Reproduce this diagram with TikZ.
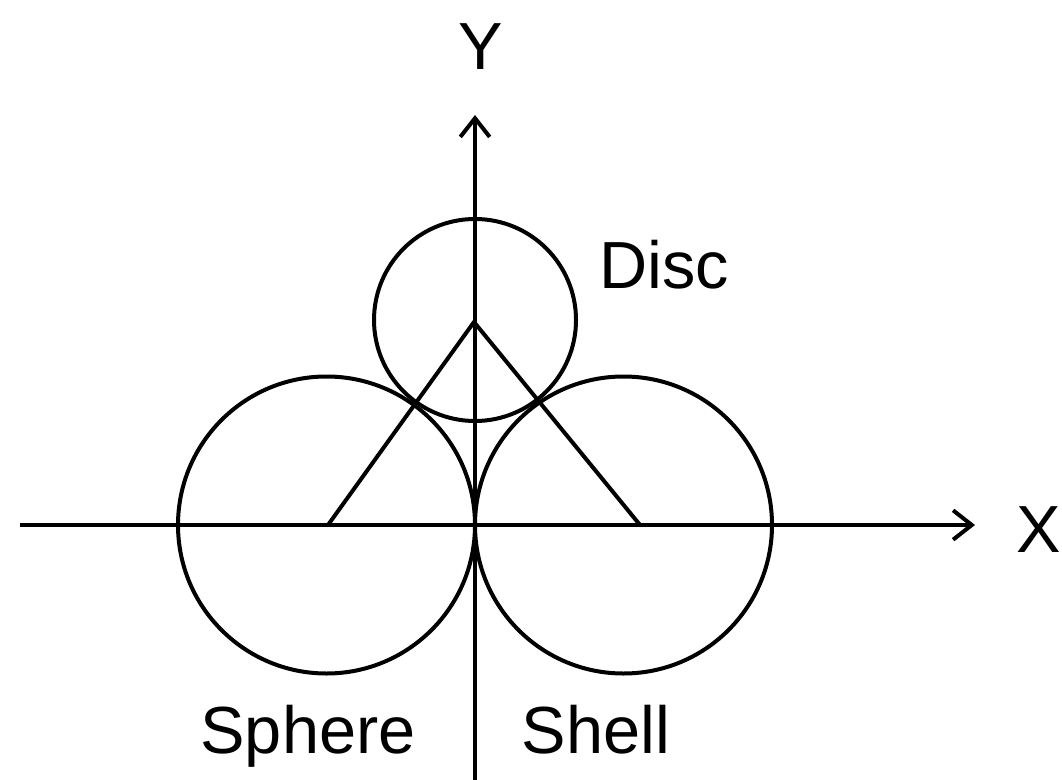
\documentclass[tikz,border=0pt]{standalone}
\usepackage{fontspec}
\setmainfont{Liberation Sans}
\usetikzlibrary{arrows.meta}
\begin{document}
\begin{tikzpicture}[x=0.75pt,y=-0.75pt,
  ln/.style={line width=3pt,black},
  axis/.style={ln,-{Straight Barb[length=14pt,width=22pt,line width=3pt]}},
  lbl/.style={font=\fontsize{50}{60}\selectfont,anchor=base,inner sep=0pt}]
\useasboundingbox (0,0) rectangle (1062,780);
\coordinate (yb) at (475,780);
\coordinate (yt) at (475,115);
\coordinate (xl) at (20,525);
\coordinate (xr) at (975,525);
\coordinate (apex) at (474,322);
\coordinate (bl) at (328,525);
\coordinate (br) at (640,525);
\coordinate (cl) at (326.5,525);
\coordinate (cr) at (623.5,525);
\coordinate (ct) at (475,320);
\draw[axis] (yb) -- (yt);
\draw[axis] (xl) -- (xr);
\draw[ln] (cl) circle[radius=148.5];
\draw[ln] (cr) circle[radius=148.5];
\draw[ln] (ct) circle[radius=101];
\draw[ln,line join=miter] (bl) -- (apex) -- (br);
\node[lbl] (ylab) at (481,70) {Y};
\node[lbl] (xlab) at (1039,552) {X};
\node[lbl] (disc) at (664,288) {Disc};
\node[lbl] (sphere) at (308,753) {Sphere};
\node[lbl] (shell) at (596,753) {Shell};
\end{tikzpicture}
\end{document}
